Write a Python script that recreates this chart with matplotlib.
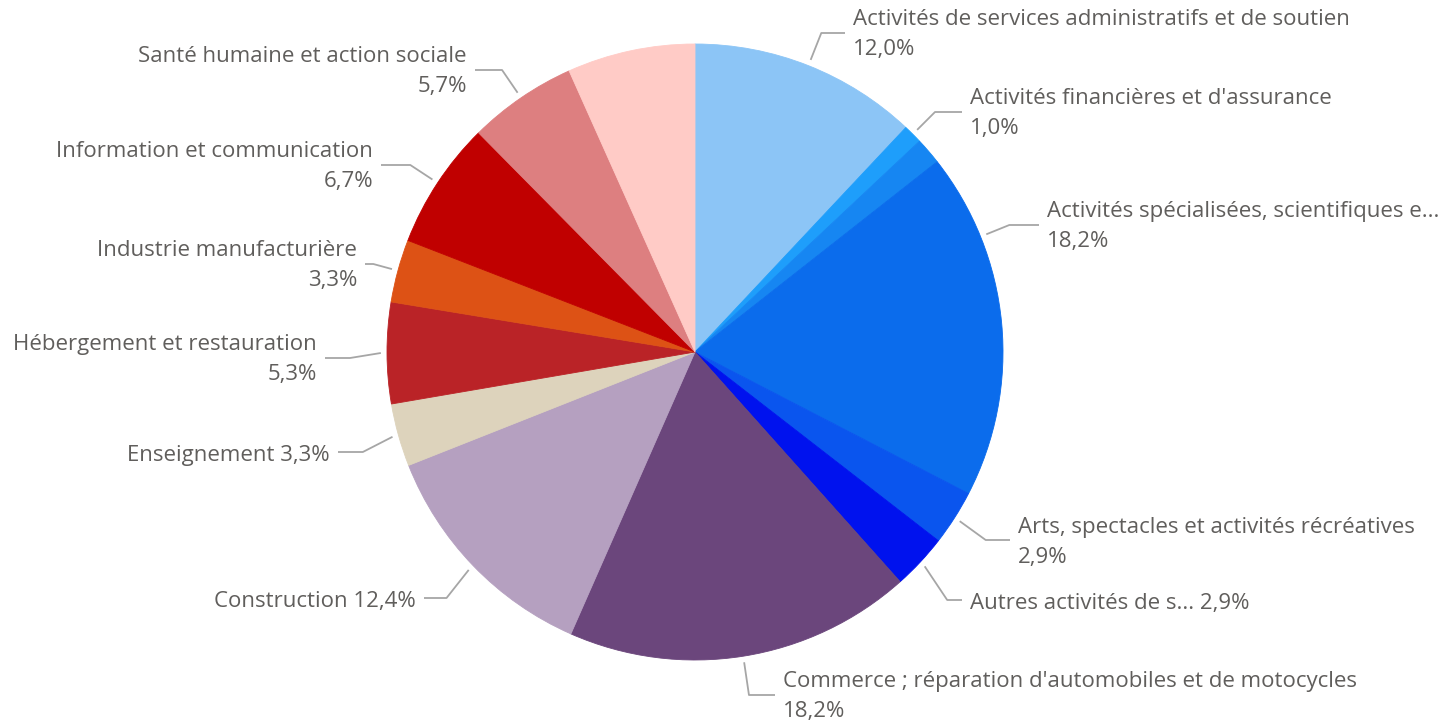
import matplotlib
matplotlib.use("Agg")
import matplotlib.pyplot as plt
import numpy as np

# ---------------- data ----------------
categories = [
    "Activités de services administratifs et de soutien",
    "Activités financières et d'assurance",
    "Activités immobilières",
    "Activités spécialisées, scientifiques et techniques",
    "Arts, spectacles et activités récréatives",
    "Autres activités de services",
    "Commerce ; réparation d'automobiles et de motocycles",
    "Construction",
    "Enseignement",
    "Hébergement et restauration",
    "Industrie manufacturière",
    "Information et communication",
    "Santé humaine et action sociale",
    "Transports et entreposage",
]
shares = [12.0, 1.0, 1.4, 18.2, 2.9, 2.9, 18.2, 12.4, 3.3, 5.3, 3.3, 6.7, 5.7, 6.7]
display_names = [
    "Activités de services administratifs et de soutien",
    "Activités financières et d'assurance",
    None,
    "Activités spécialisées, scientifiques e...",
    "Arts, spectacles et activités récréatives",
    "Autres activités de s...",
    "Commerce ; réparation d'automobiles et de motocycles",
    "Construction",
    "Enseignement",
    "Hébergement et restauration",
    "Industrie manufacturière",
    "Information et communication",
    "Santé humaine et action sociale",
    None,
]
colors = ["#8CC5F6", "#1E9EFB", "#1686F2", "#0B6CEC", "#0A55EE", "#0012EE",
          "#6B467C", "#B5A0C0", "#DDD3BC", "#BA2327", "#DD5215", "#C00000",
          "#DD7F80", "#FFCBC6"]

# ---------------- layout (pixels of the 1455x728 canvas) ----------------
W, H = 1455, 728
CX, CY, R = 695, 352, 308
# per label: (leader angle override in degrees clockwise from top or None,
#             elbow y px, text anchor x px, single line?)
layout = {
    0: (None, 33, 853, False),
    1: (None, 112, 970, False),
    3: (68, 225, 1047, False),
    4: (None, 540, 1018, False),
    5: (None, 600, 970, True),
    6: (None, 695, 783, False),
    7: (None, 598, 416, True),
    8: (None, 452, 330, True),
    9: (None, 358, 317, False),
    10: (None, 264, 357, False),
    11: (None, 165, 373, False),
    12: (None, 70, 467, False),
}

def px2d(px, py):
    return (px - CX) / R, (CY - py) / R

fig = plt.figure(figsize=(W / 100, H / 100), dpi=100)
ax = fig.add_axes([0, 0, 1, 1])
wedges, _ = ax.pie(shares, colors=colors, startangle=90, counterclock=False,
                   radius=1, center=(0, 0), wedgeprops=dict(linewidth=0.6))
for w, c in zip(wedges, colors):
    w.set_edgecolor(c)
ax.set_xlim(-CX / R, (W - CX) / R)
ax.set_ylim(-(H - CY) / R, CY / R)
ax.set_aspect("equal")
ax.axis("off")

text_color = "#605E5C"
line_color = "#A6A6A6"
fs = 16
family = ["Open Sans", "DejaVu Sans"]

total = sum(shares)
cum = 0.0
for i, v in enumerate(shares):
    mid = (cum + v / 2) / total * 360.0
    cum += v
    if i not in layout:
        continue
    ang_override, ey_px, tx_px, single = layout[i]
    ang = np.deg2rad(ang_override if ang_override is not None else mid)
    sx, sy = np.sin(ang), np.cos(ang)
    x0, y0 = 1.02 * sx, 1.02 * sy
    _, ey = px2d(0, ey_px)
    r = ey / sy if abs(sy) > 1e-6 else 1.03
    r = min(max(r, 1.03), 1.12)
    ex = r * sx
    tx, _ = px2d(tx_px, 0)
    right = sx > 0
    hx = tx - 8 / R if right else tx + 8 / R
    ax.plot([x0, ex, hx], [y0, ey, ey], color=line_color, lw=1.3,
            solid_capstyle="butt", clip_on=False)
    pct = f"{v:.1f}".replace(".", ",") + "%"
    ha = "left" if right else "right"
    if single:
        ax.text(tx, ey - 4 / R, f"{display_names[i]} {pct}", ha=ha, va="center",
                fontsize=fs, color=text_color, family=family)
    else:
        ax.text(tx, ey + 13 / R, display_names[i], ha=ha, va="center",
                fontsize=fs, color=text_color, family=family)
        ax.text(tx, ey - 17 / R, pct, ha=ha, va="center",
                fontsize=fs, color=text_color, family=family)

fig.savefig("out.png", dpi=100, facecolor="white")
